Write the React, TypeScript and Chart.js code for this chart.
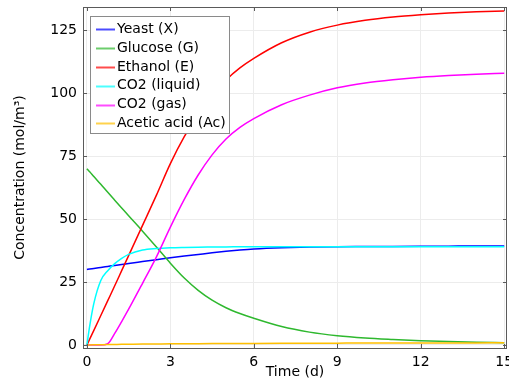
import React, { useEffect, useRef } from "react";
import { Chart, registerables } from "chart.js";

Chart.register(...registerables);

// Time (d)
const time = [0, 0.1, 0.25, 0.5, 0.75, 1, 1.25, 1.5, 2, 2.5, 3, 3.5, 4, 4.5, 5, 5.5, 6, 7, 8, 9, 10, 11, 12, 13, 14, 15];

// Concentrations (mol/m^3)
const yeast = [30, 30.15, 30.4, 30.8, 31.2, 31.6, 31.95, 32.35, 33.1, 33.85, 34.6, 35.3, 35.95, 36.6, 37.2, 37.7, 38.1, 38.6, 38.9, 39.05, 39.1, 39.15, 39.2, 39.25, 39.3, 39.3];
const glucose = [70, 68.8, 66.9, 63.8, 60.6, 57.5, 54.4, 51.3, 45.2, 38.9, 32.5, 26.6, 21.7, 17.8, 14.8, 12.5, 10.6, 7.3, 5.1, 3.7, 2.8, 2.2, 1.7, 1.35, 1.1, 0.9];
const ethanol = [0, 2.3, 5.8, 11.7, 17.6, 23.5, 29.5, 35.5, 47.5, 59.5, 72, 82.7, 91.5, 99, 105.2, 110, 113.8, 120, 124.2, 127, 128.9, 130.2, 131.1, 131.8, 132.3, 132.6];
const co2Liquid = [0, 7.5, 16.5, 25.6, 29.5, 32.3, 34.4, 36.0, 37.7, 38.3, 38.6, 38.75, 38.85, 38.9, 38.95, 38.97, 39.0, 39.0, 39.0, 39.0, 39.0, 39.0, 39.0, 39.0, 39.0, 39.0];
const co2Gas = [0, 0, 0, 0, 0.5, 4.6, 9.3, 14.2, 24.5, 35, 46.8, 57.8, 67.5, 75.5, 81.8, 86.4, 89.9, 95.4, 99.2, 102.1, 104, 105.3, 106.3, 107, 107.5, 107.9];
const aceticAcid = [0, 0.03, 0.07, 0.12, 0.17, 0.21, 0.25, 0.28, 0.34, 0.39, 0.44, 0.48, 0.52, 0.55, 0.58, 0.6, 0.63, 0.67, 0.7, 0.73, 0.76, 0.78, 0.8, 0.82, 0.83, 0.85];

const seriesLabels = ["Yeast (X)", "Glucose (G)", "Ethanol (E)", "CO2 (liquid)", "CO2 (gas)", "Acetic acid (Ac)"];
const seriesValues = [yeast, glucose, ethanol, co2Liquid, co2Gas, aceticAcid];
const seriesColors = ["#0000ff", "#2eb82e", "#ff0000", "#00ffff", "#ff00ff", "#ffbf00"];

const xTickStep = 3;
const yTickStep = 25;

const FONT = "DejaVu Sans";

const framePlugin = {
  id: "frameAndLegend",
  afterDatasetsDraw(chart: any) {
    const { ctx, chartArea, scales } = chart;
    const { left, top, right, bottom } = chartArea;
    const xs = scales.x;
    const ys = scales.y;
    ctx.save();
    // frame
    ctx.strokeStyle = "#5a5a5a";
    ctx.lineWidth = 1;
    ctx.strokeRect(left + 0.5, top + 0.5, right - left - 1, bottom - top);
    // inward tick marks
    const tl = 4;
    ctx.beginPath();
    xs.ticks.forEach((t: any) => {
      const px = Math.round(xs.getPixelForValue(t.value)) + 0.5;
      ctx.moveTo(px, bottom);
      ctx.lineTo(px, bottom - tl);
      ctx.moveTo(px, top);
      ctx.lineTo(px, top + tl);
    });
    ys.ticks.forEach((t: any) => {
      const py = Math.round(ys.getPixelForValue(t.value)) + 0.5;
      ctx.moveTo(left, py);
      ctx.lineTo(left + tl, py);
      ctx.moveTo(right, py);
      ctx.lineTo(right - tl, py);
    });
    ctx.stroke();

    // legend box (drawn above the curves)
    const bx = 90.5;
    const by = 16.5;
    const bw = 139;
    const bh = 117;
    ctx.fillStyle = "#ffffff";
    ctx.fillRect(bx, by, bw, bh);
    ctx.strokeStyle = "#8a8a8a";
    ctx.strokeRect(bx, by, bw, bh);
    ctx.font = `14px "${FONT}"`;
    ctx.textBaseline = "middle";
    ctx.textAlign = "left";
    chart.data.datasets.forEach((ds: any, i: number) => {
      const cy = 29.3 + i * 18.8;
      ctx.globalAlpha = 0.7;
      ctx.strokeStyle = ds.borderColor;
      ctx.lineWidth = 2;
      ctx.beginPath();
      ctx.moveTo(96, Math.round(cy) + 0.5);
      ctx.lineTo(115, Math.round(cy) + 0.5);
      ctx.stroke();
      ctx.globalAlpha = 1;
      ctx.fillStyle = "#000000";
      ctx.fillText(ds.label, 117, cy);
    });
    ctx.restore();
  },
};

export default function App() {
  const canvasRef = useRef<HTMLCanvasElement | null>(null);

  useEffect(() => {
    if (!canvasRef.current) return;
    const datasets = seriesLabels.map((label, i) => ({
      label,
      data: time.map((t, j) => ({ x: t, y: seriesValues[i][j] })),
      borderColor: seriesColors[i],
      backgroundColor: seriesColors[i],
      borderWidth: 1.5,
      pointRadius: 0,
      fill: false,
      cubicInterpolationMode: "monotone" as const,
      order: seriesLabels.length - i,
    }));

    const chart = new Chart(canvasRef.current, {
      type: "line",
      data: { datasets },
      plugins: [framePlugin],
      options: {
        animation: false,
        responsive: false,
        devicePixelRatio: 1,
        layout: { padding: { top: 7, right: 2, bottom: 0, left: 0 } },
        plugins: {
          legend: { display: false },
          tooltip: { enabled: false },
        },
        scales: {
          x: {
            type: "linear",
            min: -0.14,
            max: 15.1,
            border: { display: false },
            grid: { color: "#ececec", lineWidth: 1, drawTicks: false },
            ticks: {
              stepSize: xTickStep,
              includeBounds: false,
              padding: 6,
              color: "#000",
              font: { family: FONT, size: 14 },
              maxRotation: 0,
            },
            title: {
              display: true,
              text: "Time (d)",
              color: "#000",
              font: { family: FONT, size: 14 },
              padding: { top: 0, bottom: -1.5 },
            },
            afterFit(scale: any) {
              scale.height = 31;
              scale.paddingLeft = 0;
              scale.paddingRight = 0;
            },
          },
          y: {
            type: "linear",
            min: -1.2,
            max: 134.2,
            border: { display: false },
            grid: { color: "#ececec", lineWidth: 1, drawTicks: false },
            ticks: {
              stepSize: yTickStep,
              includeBounds: false,
              padding: 6,
              color: "#000",
              font: { family: FONT, size: 14 },
            },
            title: {
              display: true,
              text: "Concentration (mol/m³)",
              color: "#000",
              font: { family: FONT, size: 14 },
              padding: { top: 12, bottom: 0 },
            },
            afterFit(scale: any) {
              scale.width = 83;
              scale.paddingTop = 0;
              scale.paddingBottom = 0;
            },
          },
        },
      },
    });
    return () => chart.destroy();
  }, []);

  return (
    <div style={{ position: "fixed", left: 0, top: 0, width: 509, height: 379, background: "#fff" }}>
      <canvas ref={canvasRef} width={509} height={379} style={{ display: "block" }} />
    </div>
  );
}
